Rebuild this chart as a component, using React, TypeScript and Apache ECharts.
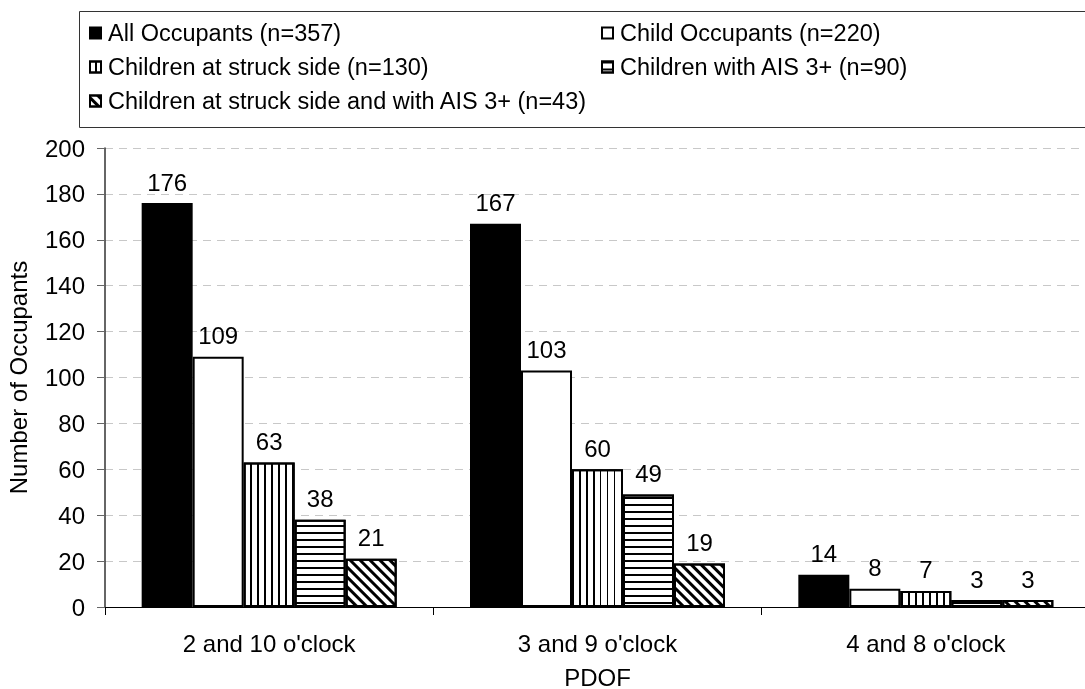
import React, { useEffect, useRef } from "react";
import * as echarts from "echarts";

const categories = ["2 and 10 o'clock", "3 and 9 o'clock", "4 and 8 o'clock"];
const seriesNames = [
  "All Occupants (n=357)",
  "Child Occupants (n=220)",
  "Children at struck side (n=130)",
  "Children with AIS 3+ (n=90)",
  "Children at struck side and with AIS 3+ (n=43)",
];
const allOccupants = [176, 167, 14];
const childOccupants = [109, 103, 8];
const childrenStruckSide = [63, 60, 7];
const childrenAIS3 = [38, 49, 3];
const childrenStruckAIS3 = [21, 19, 3];
const yTicks = { min: 0, max: 200, interval: 20 };

const FONT = "Liberation Sans, Arial, sans-serif";
const FS = 24;

export default function App() {
  const ref = useRef<HTMLDivElement>(null);
  useEffect(() => {
    if (!ref.current) return;
    const chart = echarts.init(ref.current, null, { renderer: "svg" });
    const label = {
      show: true,
      position: "top",
      distance: 9,
      color: "#000",
      fontSize: FS,
      fontFamily: FONT,
    };
    const baseItem = { borderColor: "#000", borderWidth: 2 };
    const data = [allOccupants, childOccupants, childrenStruckSide, childrenAIS3, childrenStruckAIS3];
    const styles: any[] = [
      { ...baseItem, color: "#000" },
      { ...baseItem, color: "#fff" },
      {
        ...baseItem,
        color: "#fff",
        decal: { symbol: "rect", symbolSize: 1, dashArrayX: [1, 0], dashArrayY: [2, 5], rotation: Math.PI / 2, color: "#000" },
      },
      {
        ...baseItem,
        color: "#fff",
        decal: { symbol: "rect", symbolSize: 1, dashArrayX: [1, 0], dashArrayY: [2, 5], rotation: 0, color: "#000" },
      },
      {
        ...baseItem,
        color: "#fff",
        decal: { symbol: "rect", symbolSize: 1, dashArrayX: [1, 0], dashArrayY: [3, 4], rotation: Math.PI / 4, color: "#000" },
      },
    ];
    const series = seriesNames.map((name, i) => ({
      name,
      type: "bar",
      data: data[i],
      barGap: "0%",
      barWidth: 51,
      itemStyle: styles[i],
      label,
    }));
    const legendText = { fontSize: 23.5, fontFamily: FONT, color: "#000", padding: [0, 0, 0, 2] };
    const legendCommon = {
      orient: "vertical",
      top: 16,
      padding: 5,
      icon: "rect",
      itemWidth: 11,
      itemHeight: 11,
      itemGap: 10,
      textStyle: legendText,
      itemStyle: { borderColor: "#000", borderWidth: 2 },
      selectedMode: false,
    };
    chart.setOption({
      animation: false,
      graphic: [
        {
          type: "rect",
          shape: { x: 79.5, y: 11.5, width: 1020, height: 116 },
          style: { fill: "none", stroke: "#333", lineWidth: 1 },
          z: 100,
        },
      ],
      legend: [
        { ...legendCommon, data: [seriesNames[0], seriesNames[2], seriesNames[4]], left: 84 },
        { ...legendCommon, data: [seriesNames[1], seriesNames[3]], left: 596 },
      ],
      grid: { left: 105, top: 148, width: 985, height: 459, containLabel: false, outerBoundsMode: "none" },
      xAxis: {
        type: "category",
        data: categories,
        name: "PDOF",
        nameLocation: "middle",
        nameGap: 60,
        nameTextStyle: { fontSize: FS, fontFamily: FONT, color: "#000", lineHeight: 20 },
        axisLine: { lineStyle: { color: "#000", width: 1 } },
        axisTick: { show: true, length: 8, lineStyle: { color: "#000" } },
        axisLabel: { fontSize: FS, fontFamily: FONT, color: "#000", margin: 24 },
      },
      yAxis: {
        type: "value",
        min: yTicks.min,
        max: yTicks.max,
        interval: yTicks.interval,
        name: "Number of Occupants",
        nameLocation: "middle",
        nameGap: 75,
        nameTextStyle: { fontSize: FS, fontFamily: FONT, color: "#000" },
        axisLine: { show: true, lineStyle: { color: "#333", width: 1.5 } },
        axisTick: { show: true, length: 8, lineStyle: { color: "#666" } },
        axisLabel: { fontSize: FS, fontFamily: FONT, color: "#000", margin: 20 },
        splitLine: { show: true, lineStyle: { color: "#c8c8c8", type: [8, 6], width: 1 } },
      },
      series,
    });
    return () => chart.dispose();
  }, []);
  return <div ref={ref} style={{ position: "fixed", left: 0, top: 0, width: 1085, height: 689 }} />;
}
